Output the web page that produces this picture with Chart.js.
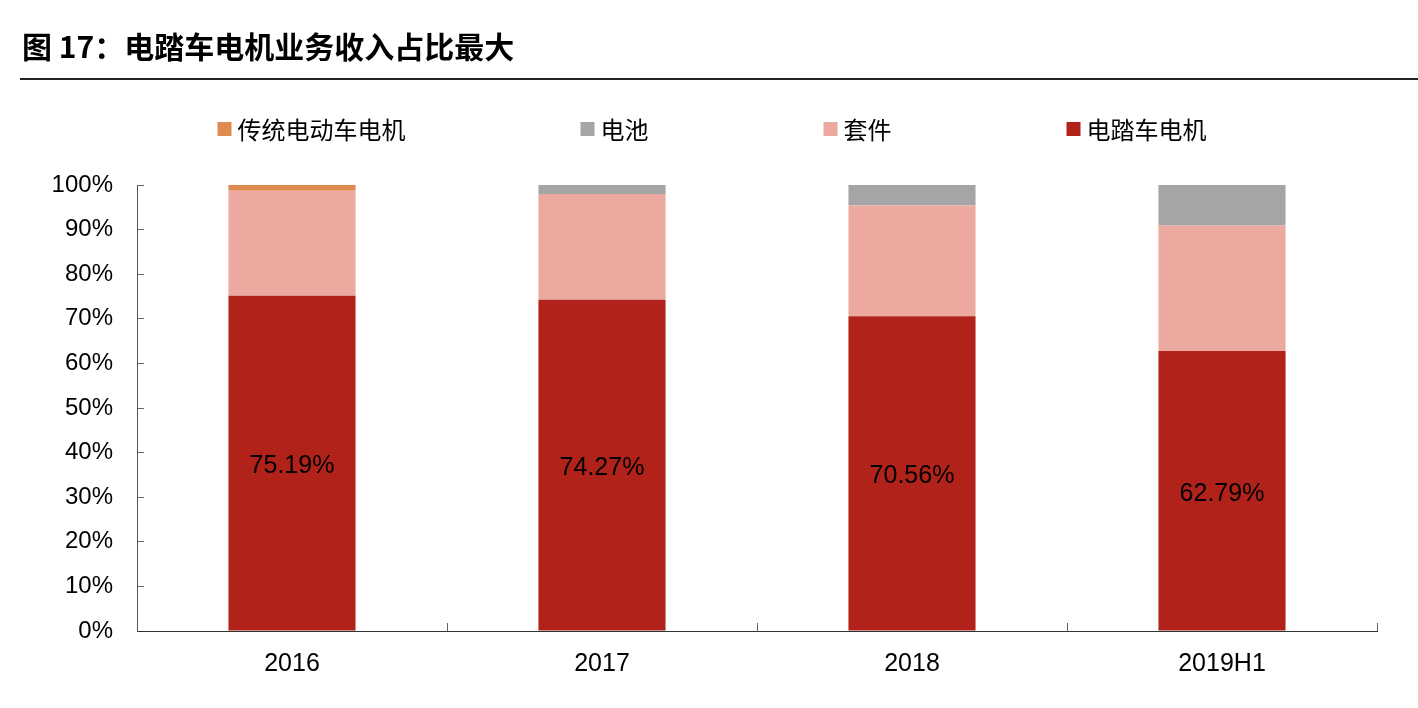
<!DOCTYPE html>
<html>
<head>
<meta charset="utf-8">
<script src="https://cdn.jsdelivr.net/npm/chart.js@4.4.1/dist/chart.umd.min.js"></script>
<style>
  html, body { margin: 0; padding: 0; background: #fff; }
  #wrap { position: relative; width: 1418px; height: 708px; }
</style>
</head>
<body>
<div id="wrap"><canvas id="shareChart"></canvas></div>
<script>
// values (percent of revenue)
const categories = ["2016", "2017", "2018", "2019H1"];
const ebikeMotor = [75.19, 74.27, 70.56, 62.79];  // 电踏车电机
const kits = [23.51, 23.73, 24.84, 28.11];        // 套件
const battery = [0, 2.0, 4.6, 9.1];               // 电池
const legacyMotor = [1.3, 0, 0, 0];               // 传统电动车电机
const yMax = 100;
const yStep = 10;

const titleText = "图 17：电踏车电机业务收入占比最大";
const cjkFont = '"Noto Sans CJK SC", "Noto Sans", sans-serif';
const latinFont = '"Liberation Sans", Arial, sans-serif';

// title + rule under it
const headerPlugin = {
  id: "header",
  beforeDraw(chart) {
    const c = chart.ctx;
    c.save();
    c.fillStyle = "#fff";
    c.fillRect(0, 0, chart.width, chart.height);
    c.fillStyle = "#000";
    c.font = "bold 30px " + cjkFont;
    c.textBaseline = "middle";
    c.textAlign = "left";
    c.fillText(titleText, 22, 47);
    c.strokeStyle = "#222";
    c.lineWidth = 2;
    c.beginPath();
    c.moveTo(20, 79);
    c.lineTo(chart.width, 79);
    c.stroke();
    c.restore();
  },
};

// legend drawn by hand so the wide gaps match (top of stack first)
const legendPlugin = {
  id: "customLegend",
  afterDraw(chart) {
    const c = chart.ctx;
    const items = chart.data.datasets.slice().reverse();
    const box = 14, gap = 6, spacing = 175;
    c.save();
    c.font = "24px " + cjkFont;
    c.textBaseline = "middle";
    const widths = items.map((ds) => box + gap + c.measureText(ds.label).width);
    const total = widths.reduce((a, b) => a + b, 0) + spacing * (items.length - 1);
    let x = (chart.width - total) / 2 + 3;
    const y = 129;
    items.forEach((ds, i) => {
      c.fillStyle = ds.backgroundColor;
      c.fillRect(x, y - box / 2, box, box);
      c.fillStyle = "#000";
      c.fillText(ds.label, x + box + gap, y + 1);
      x += widths[i] + spacing;
    });
    c.restore();
  },
};

// percentage labels in the middle of the bottom segment
const valueLabels = {
  id: "valueLabels",
  afterDatasetsDraw(chart) {
    const c = chart.ctx;
    const meta = chart.getDatasetMeta(0);
    c.save();
    c.font = "25px " + latinFont;
    c.fillStyle = "#000";
    c.textAlign = "center";
    c.textBaseline = "middle";
    meta.data.forEach((bar, i) => {
      const v = chart.data.datasets[0].data[i];
      c.fillText(v.toFixed(2) + "%", bar.x, (bar.y + bar.base) / 2 + 3);
    });
    c.restore();
  },
};

const ctx = document.getElementById("shareChart").getContext("2d");
const shareChart = new Chart(ctx, {
  type: "bar",
  data: {
    labels: categories,
    datasets: [
      { label: "电踏车电机", data: ebikeMotor, backgroundColor: "#B0221A" },
      { label: "套件", data: kits, backgroundColor: "#ECA9A0" },
      { label: "电池", data: battery, backgroundColor: "#A5A5A5" },
      { label: "传统电动车电机", data: legacyMotor, backgroundColor: "#DE8B50" },
    ],
  },
  options: {
    animation: false,
    responsive: true,
    maintainAspectRatio: false,
    devicePixelRatio: 1,
    layout: { padding: { top: 185, right: 41, bottom: 0, left: 0 } },
    datasets: {
      bar: { barPercentage: 0.41, categoryPercentage: 1, borderWidth: 0 },
    },
    scales: {
      x: {
        stacked: true,
        grid: { offset: true, drawOnChartArea: false, tickLength: -8, color: "#666" },
        border: { color: "#333", width: 1 },
        ticks: { color: "#000", font: { family: latinFont, size: 25 }, padding: 26 },
        afterFit: (scale) => { scale.height = 77; },
      },
      y: {
        stacked: true,
        min: 0,
        max: yMax,
        grid: { drawOnChartArea: false, tickLength: -7, color: "#666" },
        border: { color: "#555", width: 1 },
        ticks: {
          stepSize: yStep,
          color: "#000",
          padding: 31,
          font: { family: latinFont, size: 24 },
          callback: (v) => v + "%",
        },
        afterFit: (scale) => { scale.width = 137; },
      },
    },
    plugins: {
      legend: { display: false },
      tooltip: { enabled: false },
    },
  },
  plugins: [headerPlugin, legendPlugin, valueLabels],
});
</script>
</body>
</html>
